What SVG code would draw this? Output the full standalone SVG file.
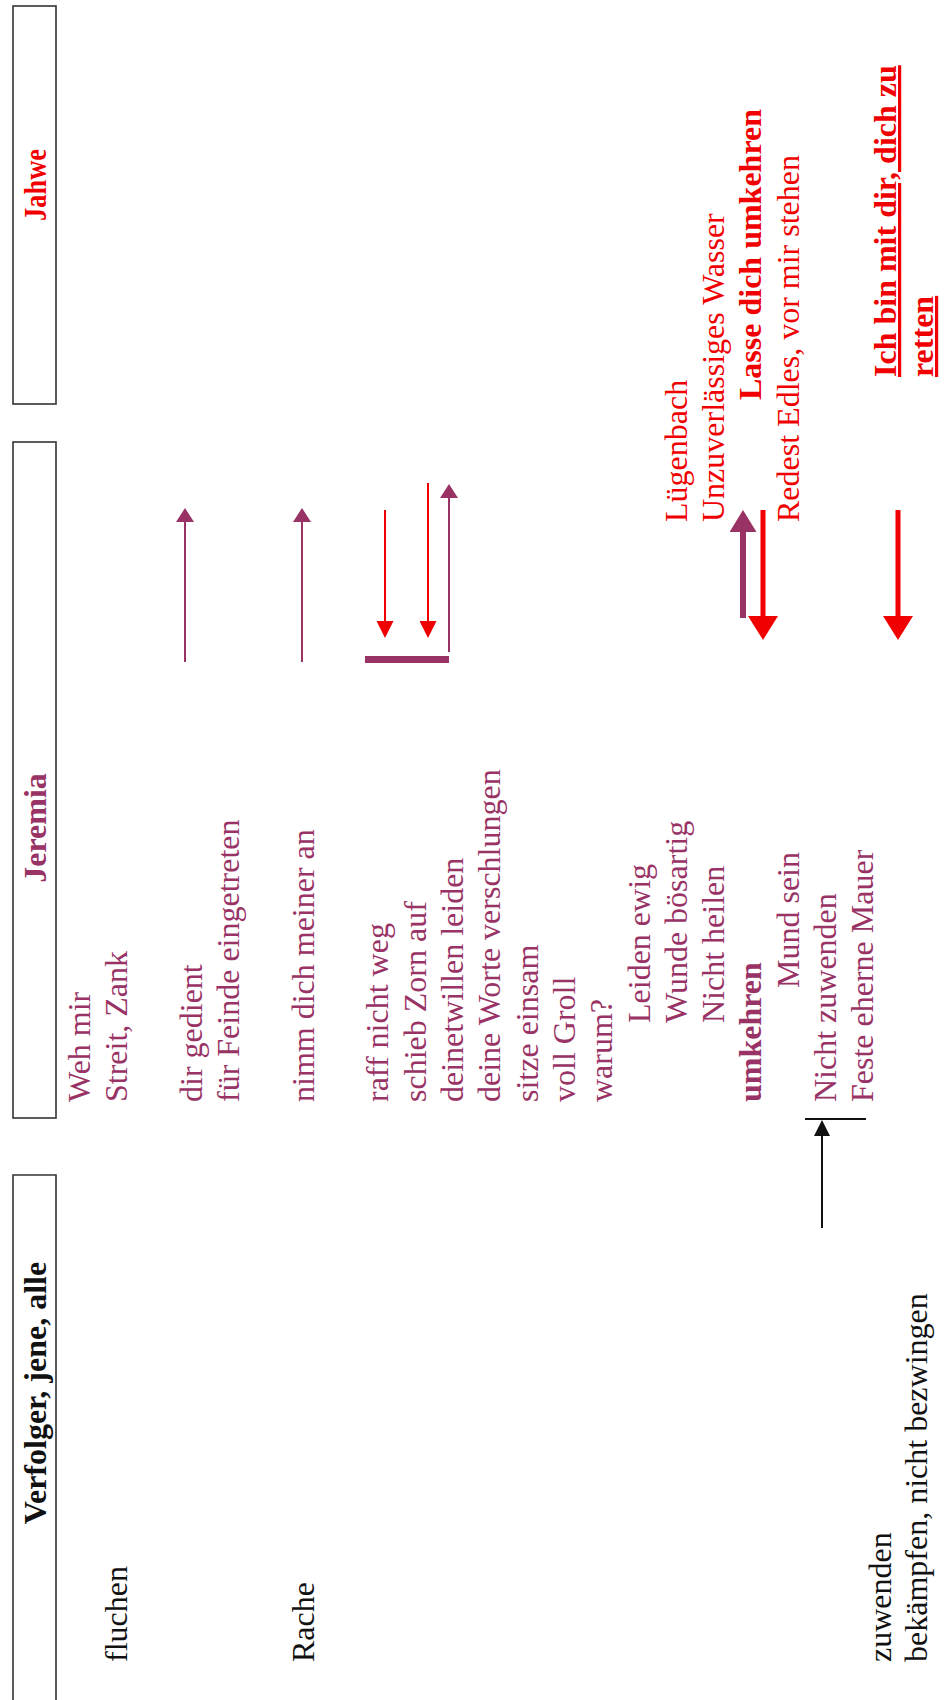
<svg xmlns="http://www.w3.org/2000/svg" width="951" height="1700" viewBox="0 0 951 1700">
<style>
text{font-family:"Liberation Serif","Times New Roman",serif;font-size:32px}
.p{fill:#993366}.r{fill:#f00000}.k{fill:#111}.b{font-weight:bold}.u{text-decoration:underline}
.box{fill:none;stroke:#333;stroke-width:1.6}
.lp{stroke:#993366;stroke-width:2;fill:none}
.lr{stroke:#f00000;stroke-width:2;fill:none}
.lk{stroke:#111;stroke-width:2;fill:none}
</style>
<defs>
<marker id="hp" markerUnits="userSpaceOnUse" viewBox="0 0 14 18" refX="0" refY="9" markerWidth="14" markerHeight="18" orient="auto"><path d="M0,0L14,9L0,18z" fill="#993366"/></marker>
<marker id="hr" markerUnits="userSpaceOnUse" viewBox="0 0 17 17" refX="0" refY="8.5" markerWidth="17" markerHeight="17" orient="auto"><path d="M0,0L17,8.5L0,17z" fill="#f00000"/></marker>
<marker id="hk" markerUnits="userSpaceOnUse" viewBox="0 0 16 16" refX="0" refY="8" markerWidth="16" markerHeight="16" orient="auto"><path d="M0,0L16,8L0,16z" fill="#111"/></marker>
<marker id="hpT" markerUnits="userSpaceOnUse" viewBox="0 0 22 27" refX="0" refY="13.5" markerWidth="22" markerHeight="27" orient="auto"><path d="M0,0L22,13.5L0,27z" fill="#993366"/></marker>
<marker id="hrT" markerUnits="userSpaceOnUse" viewBox="0 0 24 30" refX="0" refY="15" markerWidth="24" markerHeight="30" orient="auto"><path d="M0,0L24,15L0,30z" fill="#f00000"/></marker>
</defs>
<rect width="951" height="1700" fill="#fff"/>
<g id="jahwe-header"><rect class="box" x="13" y="6" width="43" height="398"/><text class="r b" text-anchor="middle" textLength="72" lengthAdjust="spacingAndGlyphs" transform="translate(46,185) rotate(-90)">Jahwe</text></g>
<g id="jeremia-header"><rect class="box" x="13" y="442" width="43" height="676"/><text class="p b" text-anchor="middle" transform="translate(46,828) rotate(-90)">Jeremia</text></g>
<g id="verfolger-header"><path class="box" d="M13,1712V1175H56V1712"/><text class="k b" text-anchor="middle" transform="translate(46,1393) rotate(-90)">Verfolger, jene, alle</text></g>
<g id="verfolger-col">
<text class="k" transform="translate(127,1662) rotate(-90)">fluchen</text>
<text class="k" transform="translate(314,1662) rotate(-90)">Rache</text>
<text class="k" transform="translate(891,1662) rotate(-90)">zuwenden</text>
<text class="k" transform="translate(927,1662) rotate(-90)">bekämpfen, nicht bezwingen</text>
</g>
<g id="jeremia-col">
<text class="p" transform="translate(90,1102) rotate(-90)">Weh mir</text>
<text class="p" transform="translate(127,1102) rotate(-90)">Streit, Zank</text>
<text class="p" transform="translate(202,1102) rotate(-90)">dir gedient</text>
<text class="p" transform="translate(239,1102) rotate(-90)">für Feinde eingetreten</text>
<text class="p" transform="translate(314,1102) rotate(-90)">nimm dich meiner an</text>
<text class="p" transform="translate(388,1102) rotate(-90)">raff nicht weg</text>
<text class="p" transform="translate(426,1102) rotate(-90)">schieb Zorn auf</text>
<text class="p" transform="translate(463,1102) rotate(-90)">deinetwillen leiden</text>
<text class="p" transform="translate(500,1102) rotate(-90)">deine Worte verschlungen</text>
<text class="p" transform="translate(538,1102) rotate(-90)">sitze einsam</text>
<text class="p" transform="translate(575,1102) rotate(-90)">voll Groll</text>
<text class="p" transform="translate(612,1102) rotate(-90)">warum?</text>
<text class="p" transform="translate(650,1023) rotate(-90)">Leiden ewig</text>
<text class="p" transform="translate(687,1023) rotate(-90)">Wunde bösartig</text>
<text class="p" transform="translate(724,1023) rotate(-90)">Nicht heilen</text>
<text class="p b" transform="translate(761,1102) rotate(-90)">umkehren</text>
<text class="p" transform="translate(799,988) rotate(-90)">Mund sein</text>
<text class="p" transform="translate(836,1102) rotate(-90)">Nicht zuwenden</text>
<text class="p" transform="translate(873,1102) rotate(-90)">Feste eherne Mauer</text>
</g>
<g id="jahwe-col">
<text class="r" transform="translate(687,522) rotate(-90)">Lügenbach</text>
<text class="r" transform="translate(724,522) rotate(-90)">Unzuverlässiges Wasser</text>
<text class="r b" transform="translate(761,400) rotate(-90)">Lasse dich umkehren</text>
<text class="r" transform="translate(799,522) rotate(-90)">Redest Edles, vor mir stehen</text>
<text class="r b u" transform="translate(896,377) rotate(-90)">Ich bin mit dir, dich zu</text>
<text class="r b u" transform="translate(933,377) rotate(-90)">retten</text>
</g>
<g id="connectors">
<line class="lp" x1="185" y1="662" x2="185" y2="522" marker-end="url(#hp)"/>
<line class="lp" x1="302" y1="662" x2="302" y2="522" marker-end="url(#hp)"/>
<line class="lr" x1="385" y1="510" x2="385" y2="621" marker-end="url(#hr)"/>
<line class="lr" x1="428" y1="483" x2="428" y2="621" marker-end="url(#hr)"/>
<line class="lp" x1="449" y1="652" x2="449" y2="498" marker-end="url(#hp)"/>
<rect x="365" y="656" width="84" height="7" fill="#993366"/>
<line class="lp" style="stroke-width:6" x1="743" y1="618" x2="743" y2="532" marker-end="url(#hpT)"/>
<line class="lr" style="stroke-width:5" x1="763" y1="510" x2="763" y2="616" marker-end="url(#hrT)"/>
<line class="lr" style="stroke-width:5" x1="898" y1="510" x2="898" y2="616" marker-end="url(#hrT)"/>
<line class="lk" x1="822" y1="1228" x2="822" y2="1136" marker-end="url(#hk)"/>
<line class="lk" x1="805" y1="1119" x2="866" y2="1119"/>
</g>
</svg>
